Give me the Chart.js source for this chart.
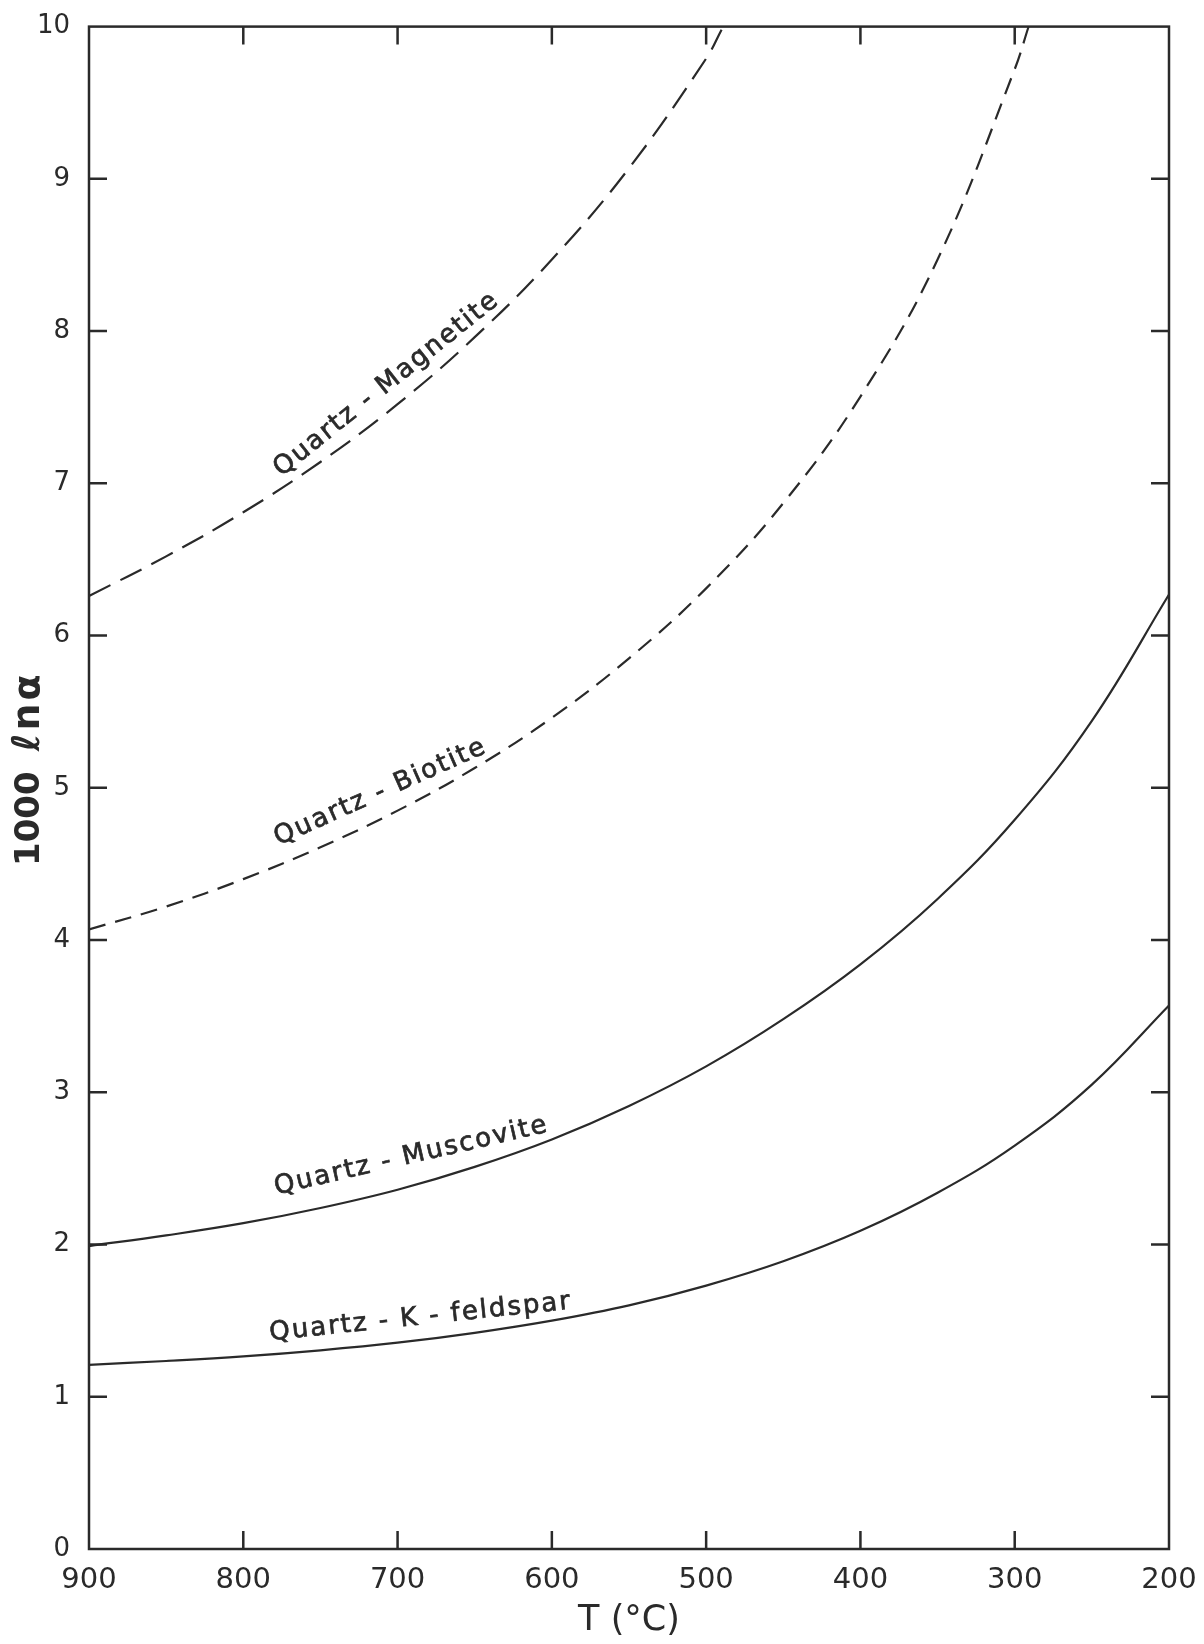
<!DOCTYPE html>
<html>
<head>
<meta charset="utf-8">
<script src="https://cdn.jsdelivr.net/npm/chart.js@4/dist/chart.umd.min.js"></script>
<style>
  html, body { margin: 0; padding: 0; background: #ffffff; }
  #wrap { width: 1204px; height: 1644px; }
</style>
</head>
<body>
<div id="wrap"><canvas id="chart" width="1204" height="1644"></canvas></div>
<script>
// Oxygen isotope fractionation, 1000 ln(alpha), against temperature (°C)
const magnetiteT = [900, 850, 800, 750, 700, 650, 600, 550, 500, 490];
const magnetiteV = [6.26, 6.52, 6.81, 7.14, 7.52, 7.96, 8.47, 9.07, 9.79, 9.98];

const biotiteT = [900, 850, 800, 750, 700, 650, 600, 550, 500, 450, 400, 350, 300, 291];
const biotiteV = [4.07, 4.22, 4.40, 4.61, 4.85, 5.13, 5.46, 5.85, 6.31, 6.87, 7.57, 8.47, 9.72, 10.0];

const muscoviteT = [900, 850, 800, 750, 700, 650, 600, 550, 500, 450, 400, 350, 300, 250, 200];
const muscoviteV = [1.99, 2.06, 2.14, 2.24, 2.36, 2.51, 2.69, 2.91, 3.17, 3.48, 3.84, 4.27, 4.79, 5.44, 6.27];

const kfeldsparT = [900, 850, 800, 750, 700, 650, 600, 550, 500, 450, 400, 350, 300, 250, 200];
const kfeldsparV = [1.21, 1.235, 1.265, 1.305, 1.355, 1.42, 1.50, 1.60, 1.73, 1.89, 2.09, 2.34, 2.65, 3.05, 3.57];

const seriesNames = ['Quartz - Magnetite', 'Quartz - Biotite', 'Quartz - Muscovite', 'Quartz - K - feldspar'];

const xTickValues = [900, 800, 700, 600, 500, 400, 300, 200];
const yTickValues = [0, 1, 2, 3, 4, 5, 6, 7, 8, 9, 10];

const INK = '#2a2a2a';
const FONT = "'DejaVu Sans', 'Liberation Sans', sans-serif";

function pairs(ts, vs) {
  return ts.map((t, i) => ({ x: t, y: vs[i] }));
}

// Curve names written along each curve: anchor (T, value) and text angle
const curveLabelLayout = [
  { name: seriesNames[0], t: 707, v: 7.65, angle: 38.5 },
  { name: seriesNames[1], t: 711, v: 4.97, angle: 24 },
  { name: seriesNames[2], t: 691, v: 2.58, angle: 13 },
  { name: seriesNames[3], t: 685, v: 1.52, angle: 6 }
];

// Box frame with inward tick marks on all four sides
const framePlugin = {
  id: 'frame',
  afterDatasetsDraw(chart) {
    const { ctx, chartArea: a, scales } = chart;
    const len = 18;
    ctx.save();
    ctx.strokeStyle = INK;
    ctx.lineWidth = 2.5;
    ctx.lineCap = 'butt';
    ctx.strokeRect(a.left, a.top, a.right - a.left, a.bottom - a.top);
    ctx.beginPath();
    scales.x.ticks.forEach(tk => {
      if (tk.value === scales.x.min || tk.value === scales.x.max) return;
      const px = scales.x.getPixelForValue(tk.value);
      ctx.moveTo(px, a.bottom); ctx.lineTo(px, a.bottom - len);
      ctx.moveTo(px, a.top); ctx.lineTo(px, a.top + len);
    });
    scales.y.ticks.forEach(tk => {
      if (tk.value === scales.y.min || tk.value === scales.y.max) return;
      const py = scales.y.getPixelForValue(tk.value);
      ctx.moveTo(a.left, py); ctx.lineTo(a.left + len, py);
      ctx.moveTo(a.right, py); ctx.lineTo(a.right - len, py);
    });
    ctx.stroke();
    ctx.restore();
  }
};

const curveLabelPlugin = {
  id: 'curveLabels',
  afterDatasetsDraw(chart) {
    const { ctx, scales } = chart;
    ctx.save();
    ctx.fillStyle = INK;
    ctx.strokeStyle = INK;
    ctx.lineWidth = 0.7;
    ctx.font = `26px ${FONT}`;
    ctx.textAlign = 'center';
    ctx.textBaseline = 'middle';
    if ('letterSpacing' in ctx) ctx.letterSpacing = '2px';
    curveLabelLayout.forEach(l => {
      const px = scales.x.getPixelForValue(l.t);
      const py = scales.y.getPixelForValue(l.v);
      ctx.save();
      ctx.translate(px, py);
      ctx.rotate(-l.angle * Math.PI / 180);
      ctx.fillText(l.name, 0, 0);
      ctx.strokeText(l.name, 0, 0);
      ctx.restore();
    });
    ctx.restore();
  }
};

// Vertical axis title: "1000" followed by a larger, more open "ℓnα"
const yTitlePlugin = {
  id: 'yTitle',
  afterDraw(chart) {
    const { ctx, scales } = chart;
    const y = scales.y;
    const cx = y.left + 30;
    const baseY = 866;
    ctx.save();
    ctx.translate(cx, baseY);
    ctx.rotate(-Math.PI / 2);
    ctx.fillStyle = INK;
    ctx.textBaseline = 'middle';
    ctx.textAlign = 'left';
    ctx.font = `bold 34px ${FONT}`;
    ctx.fillText('1000', 0, 0);
    const w = ctx.measureText('1000').width;
    ctx.font = `bold 38px ${FONT}`;
    if ('letterSpacing' in ctx) ctx.letterSpacing = '3px';
    ctx.fillText('ℓnα', w + 20, -1);
    ctx.restore();
  }
};

const lineStyle = {
  borderColor: INK,
  borderWidth: 2.2,
  fill: false,
  pointRadius: 0,
  tension: 0.4
};

new Chart(document.getElementById('chart'), {
  type: 'line',
  data: {
    datasets: [
      Object.assign({ label: seriesNames[0], data: pairs(magnetiteT, magnetiteV), borderDash: [24, 11] }, lineStyle),
      Object.assign({ label: seriesNames[1], data: pairs(biotiteT, biotiteV), borderDash: [17, 10] }, lineStyle),
      Object.assign({ label: seriesNames[2], data: pairs(muscoviteT, muscoviteV) }, lineStyle),
      Object.assign({ label: seriesNames[3], data: pairs(kfeldsparT, kfeldsparV) }, lineStyle)
    ]
  },
  options: {
    responsive: false,
    animation: false,
    devicePixelRatio: 1,
    layout: { padding: { top: 25, right: 35, left: 0, bottom: 0 } },
    plugins: { legend: { display: false }, tooltip: { enabled: false } },
    scales: {
      x: {
        type: 'linear',
        reverse: true,
        min: 200,
        max: 900,
        afterBuildTicks(s) { s.ticks = xTickValues.map(v => ({ value: v })); },
        afterFit(s) { s.height = 95; },
        ticks: { color: INK, font: { family: FONT, size: 29 }, padding: 6, maxRotation: 0, autoSkip: false },
        grid: { display: false },
        border: { display: false },
        title: { display: true, text: 'T (°C)', color: INK, font: { family: FONT, size: 35 }, padding: { top: 0, bottom: 2 } }
      },
      y: {
        min: 0,
        max: 10,
        afterBuildTicks(s) { s.ticks = yTickValues.map(v => ({ value: v })); },
        afterFit(s) { s.width = 89; },
        ticks: { color: INK, font: { family: FONT, size: 26 }, padding: 11, autoSkip: false },
        grid: { display: false },
        border: { display: false },
        title: { display: false, text: '1000 ℓnα' }
      }
    }
  },
  plugins: [framePlugin, curveLabelPlugin, yTitlePlugin]
});
</script>
</body>
</html>
